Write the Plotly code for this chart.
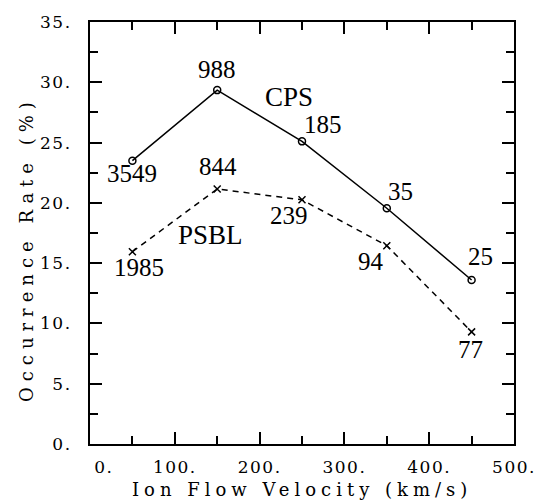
import plotly.graph_objects as go

# ---- data ----
velocity = [50, 150, 250, 350, 450]
cps_rate = [23.5, 29.35, 25.1, 19.55, 13.6]
psbl_rate = [15.95, 21.15, 20.25, 16.45, 9.3]
cps_counts = ["3549", "988", "185", "35", "25"]
psbl_counts = ["1985", "844", "239", "94", "77"]
x_tick_vals = [0, 100, 200, 300, 400, 500]
x_tick_text = ["0.", "100.", "200.", "300.", "400.", "500."]
y_tick_vals = [0, 5, 10, 15, 20, 25, 30, 35]
y_tick_text = ["0.", "5.", "10.", "15.", "20.", "25.", "30.", "35."]
series_names = ["CPS", "PSBL"]
x_title = "Ion Flow Velocity (km/s)"
y_title = "Occurrence Rate (%)"

# ---- styles / positions ----
cps_label_shift = [(0, -13), (0, 20.5), (21, 16.5), (14, 17), (9, 24)]
psbl_label_shift = [(7, -16), (1, 22), (-13, -16), (-16, -16), (-1, -18)]
name_pos = [(235, 28.5), (142, 17.1)]
name_yshift = 3

AX_FONT = "DejaVu Serif"
LBL_FONT = "Liberation Serif"


def spaced(t, px):
    return f'<span style="letter-spacing:{px}px">{t}</span>'


fig = go.Figure()
fig.add_trace(go.Scatter(
    x=velocity, y=cps_rate, mode="lines+markers", name=series_names[0],
    line=dict(color="black", width=1.5),
    marker=dict(symbol="circle-open", size=7, color="black", line=dict(width=1.5)),
))
fig.add_trace(go.Scatter(
    x=velocity, y=psbl_rate, mode="lines+markers", name=series_names[1],
    line=dict(color="black", width=1.5, dash="6px,5px"),
    marker=dict(symbol="x-thin-open", size=7, color="black", line=dict(width=1.5, color="black")),
))

annotations = []
for xv, yv, txt, (dx, dy) in zip(velocity, cps_rate, cps_counts, cps_label_shift):
    annotations.append(dict(x=xv, y=yv, text=txt, showarrow=False, xshift=dx, yshift=dy,
                            font=dict(family=LBL_FONT, size=25, color="black")))
for xv, yv, txt, (dx, dy) in zip(velocity, psbl_rate, psbl_counts, psbl_label_shift):
    annotations.append(dict(x=xv, y=yv, text=txt, showarrow=False, xshift=dx, yshift=dy,
                            font=dict(family=LBL_FONT, size=25, color="black")))
for nm, (px, py) in zip(series_names, name_pos):
    annotations.append(dict(x=px, y=py, text=nm, showarrow=False, yshift=name_yshift,
                            font=dict(family=LBL_FONT, size=27, color="black")))

# axis titles
annotations.append(dict(x=0.5, y=-0.107, xref="paper", yref="paper", text=spaced(x_title, 5),
                        showarrow=False, xanchor="center", yanchor="middle",
                        font=dict(family=AX_FONT, size=18, color="black")))
annotations.append(dict(x=-0.1515, y=0.4615, xref="paper", yref="paper", text=spaced(y_title, 6),
                        showarrow=False, xanchor="center", yanchor="middle", textangle=-90,
                        font=dict(family=AX_FONT, size=18, color="black")))

x_text = [spaced(t, 1.5) for t in x_tick_text]
x_text[0] = spaced("\u00a0\u00a0\u00a0\u00a0" + x_tick_text[0], 1.5)

axis_common = dict(
    showgrid=False, zeroline=False, showline=True, linecolor="black", linewidth=2,
    mirror="ticks", ticks="inside", ticklen=12, tickwidth=2, tickcolor="black",
    tickfont=dict(family=AX_FONT, size=17, color="black"),
)
fig.update_xaxes(range=[0, 500], tickmode="array", tickvals=x_tick_vals, ticktext=x_text,
                 minor=dict(ticks="inside", ticklen=8, tickwidth=2, tickcolor="black", dtick=50, tick0=0,
                            showgrid=False),
                 ticklabelstandoff=7, **axis_common)
fig.update_yaxes(range=[0, 35], tickmode="array", tickvals=y_tick_vals,
                 ticktext=[spaced(t, 1.5) for t in y_tick_text],
                 minor=dict(ticks="inside", ticklen=8, tickwidth=2, tickcolor="black", dtick=2.5, tick0=0,
                            showgrid=False),
                 ticklabelstandoff=13, **axis_common)

fig.update_layout(
    width=548, height=504, showlegend=False,
    margin=dict(l=90, r=29, t=15, b=60),
    paper_bgcolor="white", plot_bgcolor="white",
    annotations=annotations,
    font=dict(family=AX_FONT, color="black"),
)
fig.write_html("out.html", config={"displayModeBar": False},
               post_script="document.body.style.margin='0';document.body.style.overflow='hidden';")
